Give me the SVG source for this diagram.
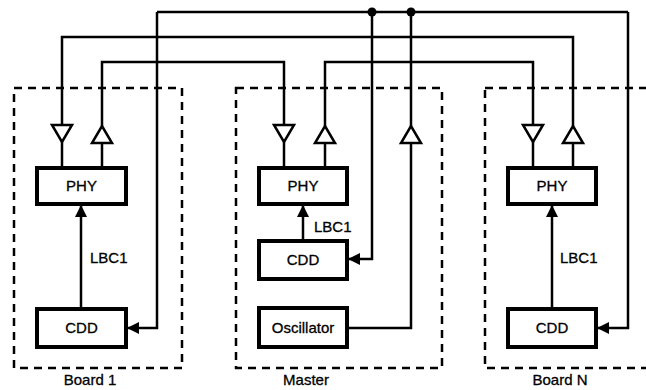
<svg xmlns="http://www.w3.org/2000/svg" width="646" height="390" viewBox="0 0 646 390">
<style>
.board{fill:none;stroke:#000;stroke-width:2.5;stroke-dasharray:8 6}
.box{fill:#fff;stroke:#000;stroke-width:4}
.wire{fill:none;stroke:#000;stroke-width:2.5}
.buf{fill:#fff;stroke:#000;stroke-width:2.5;stroke-linejoin:miter}
text{font-family:"Liberation Sans",Arial,sans-serif;font-size:15px;fill:#000;stroke:#000;stroke-width:0.3}
.c{text-anchor:middle}
</style>
<defs>
<marker id="ah" markerUnits="userSpaceOnUse" markerWidth="12" markerHeight="12" viewBox="0 0 12 12" refX="11" refY="6" orient="auto">
<path d="M0,0 L12,6 L0,12 Z" fill="#000"/>
</marker>
</defs>
<g id="board1">
<rect class="board" x="14" y="88" width="168" height="280"/>
<text class="c" x="90" y="385">Board 1</text>
</g>
<g id="master">
<rect class="board" x="236" y="88" width="206" height="280"/>
<text class="c" x="306" y="385">Master</text>
</g>
<g id="boardN">
<rect class="board" x="485" y="88" width="180" height="280"/>
<text class="c" x="560" y="385">Board N</text>
</g>
<g id="connectors">
<path class="wire" d="M62,125 V37 H573 V126"/>
<path class="wire" d="M102,126 V62 H284 V125"/>
<path class="wire" d="M325,126 V62 H533 V125"/>
<path class="wire" d="M157,12 H628"/>
<path class="wire" d="M157,12 V328 H128" marker-end="url(#ah)"/>
<path class="wire" d="M628,12 V328 H598" marker-end="url(#ah)"/>
<path class="wire" d="M372,12 V259 H349" marker-end="url(#ah)"/>
<path class="wire" d="M411,12 V126"/>
<path class="wire" d="M411,143 V328 H347"/>
<path class="wire" d="M62,142 V168 M102,143 V168"/>
<path class="wire" d="M284,142 V168 M325,143 V168"/>
<path class="wire" d="M533,142 V168 M573,143 V168"/>
<path class="wire" d="M81,309 V206" marker-end="url(#ah)"/>
<path class="wire" d="M303,241 V206" marker-end="url(#ah)"/>
<path class="wire" d="M552,309 V206" marker-end="url(#ah)"/>
<circle cx="372" cy="12" r="4.5" fill="#000"/>
<circle cx="411" cy="12" r="4.5" fill="#000"/>
<text x="90" y="263">LBC1</text>
<text x="314" y="232">LBC1</text>
<text x="560" y="263">LBC1</text>
</g>
<g id="buffers">
<path class="buf" d="M52,125 H72 L62,142 Z"/>
<path class="buf" d="M92,143 H112 L102,126 Z"/>
<path class="buf" d="M274,125 H294 L284,142 Z"/>
<path class="buf" d="M315,143 H335 L325,126 Z"/>
<path class="buf" d="M401,143 H421 L411,126 Z"/>
<path class="buf" d="M523,125 H543 L533,142 Z"/>
<path class="buf" d="M563,143 H583 L573,126 Z"/>
</g>
<g id="phy1"><rect class="box" x="37" y="168" width="89" height="36"/><text class="c" x="81.5" y="191">PHY</text></g>
<g id="cdd1"><rect class="box" x="37" y="309" width="89" height="38"/><text class="c" x="81.5" y="333">CDD</text></g>
<g id="phyM"><rect class="box" x="259" y="168" width="88" height="36"/><text class="c" x="303" y="191">PHY</text></g>
<g id="cddM"><rect class="box" x="259" y="241" width="88" height="38"/><text class="c" x="303" y="265">CDD</text></g>
<g id="osc"><rect class="box" x="259" y="308" width="88" height="39"/><text class="c" x="303" y="333">Oscillator</text></g>
<g id="phyN"><rect class="box" x="508" y="168" width="88" height="36"/><text class="c" x="552" y="191">PHY</text></g>
<g id="cddN"><rect class="box" x="508" y="309" width="88" height="38"/><text class="c" x="552" y="333">CDD</text></g>
</svg>
